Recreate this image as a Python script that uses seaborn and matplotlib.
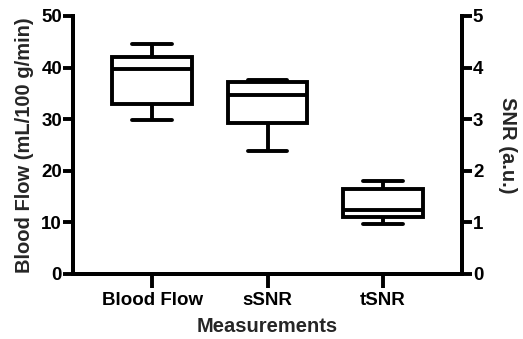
import numpy as np
import pandas as pd
import matplotlib as mpl
import matplotlib.pyplot as plt
import seaborn as sns

# --- Datos (resumen de cinco números: min, Q1, mediana, Q3, max) ---
categorias = ["Blood Flow", "sSNR", "tSNR"]
flujo_sanguineo = [29.8, 32.9, 39.8, 42.0, 44.5]   # mL/100 g/min (eje izquierdo)
ssnr = [2.38, 2.92, 3.46, 3.71, 3.76]             # a.u. (eje derecho)
tsnr = [0.97, 1.10, 1.23, 1.65, 1.81]             # a.u. (eje derecho)

df_flujo = pd.DataFrame({"cat": "Blood Flow", "val": flujo_sanguineo})
df_snr = pd.concat([
    pd.DataFrame({"cat": "sSNR", "val": ssnr}),
    pd.DataFrame({"cat": "tSNR", "val": tsnr}),
])

# --- Estética ---
sns.set_style("ticks")
mpl.rcParams['font.family'] = ['Liberation Sans', 'DejaVu Sans']
mpl.rcParams['font.weight'] = 'bold'
mpl.rcParams['axes.labelweight'] = 'bold'
LW = 2.8

fig = plt.figure(figsize=(5.23, 3.39), dpi=100)
ax = fig.add_axes([0.14, 0.192, 0.743, 0.761])
ax2 = ax.twinx()

estilo = dict(order=categorias, color="white", linecolor="black",
              linewidth=LW, width=0.69, whis=np.inf)
sns.boxplot(data=df_flujo, x="cat", y="val", ax=ax, **estilo)
sns.boxplot(data=df_snr, x="cat", y="val", ax=ax2, **estilo)

ax.set_xlim(-0.684, 2.684)
ax.set_ylim(0, 50)
ax2.set_ylim(0, 5)
ax.set_yticks([0, 10, 20, 30, 40, 50])
ax2.set_yticks([0, 1, 2, 3, 4, 5])

for a in (ax, ax2):
    a.spines['top'].set_visible(False)
    for s in a.spines.values():
        s.set_linewidth(LW)
        s.set_color("black")
    a.tick_params(width=LW, length=7, labelsize=13.5, colors="black", pad=1)
ax.tick_params(axis='x', length=10, pad=3)

ax.set_xlabel("Measurements", fontsize=14.5, fontweight='bold', labelpad=6)
ax.set_ylabel("Blood Flow (mL/100 g/min)", fontsize=14.5, fontweight='bold', labelpad=5)
ax2.set_xlabel("")
ax2.set_ylabel("SNR (a.u.)", fontsize=14.5, fontweight='bold',
               rotation=270, labelpad=24)
for lbl in ax.get_xticklabels() + ax.get_yticklabels() + ax2.get_yticklabels():
    lbl.set_fontweight('bold')

plt.savefig("out.png", dpi=100)
plt.close()
